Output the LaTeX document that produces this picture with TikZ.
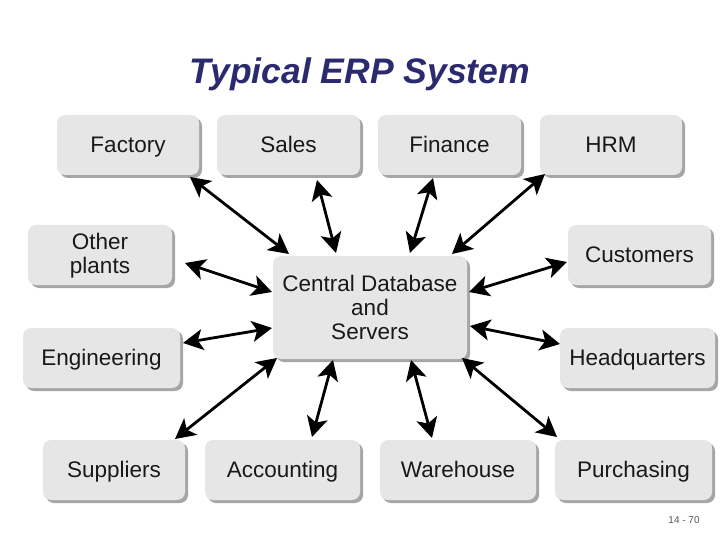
\documentclass[tikz,border=0pt]{standalone}
\usepackage{fontspec}
\setmainfont{Liberation Sans}
\usetikzlibrary{shadows,arrows.meta,calc}
\definecolor{boxfill}{HTML}{E6E6E6}
\definecolor{boxshadow}{HTML}{A6A6A6}
\definecolor{titleblue}{HTML}{2B2A6E}
\definecolor{pagegray}{HTML}{555555}
\tikzset{
  modbox/.style={fill=boxfill, rounded corners=8pt, inner sep=0pt,
    minimum height=60pt, align=center, text=black!90,
    font=\fontsize{22.5}{24}\selectfont,
    drop shadow={shadow xshift=3pt, shadow yshift=-3pt, fill=boxshadow, opacity=1}},
  oneline/.style={text height=16pt, text depth=1pt},
  tipx/.tip={Stealth[length=20pt,width=21pt,inset=5pt]},
  link/.style={line width=2.8pt, black, tipx-tipx}
}
\begin{document}
\begin{tikzpicture}[x=1pt,y=-1pt]
\useasboundingbox (0,0) rectangle (720,540);
\node[text=titleblue, font=\fontsize{35.5}{38}\selectfont\bfseries\itshape, anchor=base] (title) at (360,84) {Typical ERP System};
\node[modbox, oneline, minimum width=142pt] (factory) at (128,145) {Factory};
\node[modbox, oneline, minimum width=143pt] (sales) at (288.5,145) {Sales};
\node[modbox, oneline, minimum width=143pt] (finance) at (449.5,145) {Finance};
\node[modbox, oneline, minimum width=142pt] (hrm) at (611,145) {HRM};
\node[modbox, minimum width=144pt, text depth=3pt] (other) at (100,255) {Other\\plants};
\node[modbox, oneline, minimum width=143pt] (customers) at (639.5,255) {Customers};
\node[modbox, minimum width=194pt, minimum height=103pt] (central) at (370,307.5) {Central Database\\and\\Servers};
\node[modbox, oneline, minimum width=157pt] (engineering) at (101.5,358) {Engineering};
\node[modbox, oneline, minimum width=155pt] (hq) at (637.5,358) {Headquarters};
\node[modbox, oneline, minimum width=142pt] (suppliers) at (114,470) {Suppliers};
\node[modbox, oneline, minimum width=155pt] (accounting) at (282.5,470) {Accounting};
\node[modbox, oneline, minimum width=156pt] (warehouse) at (458,470) {Warehouse};
\node[modbox, oneline, minimum width=157pt] (purchasing) at (633.5,470) {Purchasing};
\node[text=pagegray, font=\fontsize{10}{12}\selectfont, anchor=base] (page) at (684,523) {14 - 70};
\draw[link] ($(factory.center)+(62,32)$) -- ($(central.center)+(-81,-53.5)$);
\draw[link] ($(sales.center)+(28.5,35)$) -- ($(central.center)+(-34,-54.5)$);
\draw[link] ($(finance.center)+(-16.5,33)$) -- ($(central.center)+(40,-54.5)$);
\draw[link] ($(hrm.center)+(-66,29)$) -- ($(central.center)+(82,-53.5)$);
\draw[link] ($(other.center)+(85,8)$) -- ($(central.center)+(-98,-15.5)$);
\draw[link] ($(customers.center)+(-72.5,7)$) -- ($(central.center)+(99,-15.5)$);
\draw[link] ($(engineering.center)+(81.5,-15)$) -- ($(central.center)+(-98,20.5)$);
\draw[link] ($(hq.center)+(-77.5,-14)$) -- ($(central.center)+(100,18.5)$);
\draw[link] ($(suppliers.center)+(61,-31)$) -- ($(central.center)+(-93,50.5)$);
\draw[link] ($(accounting.center)+(29.5,-33)$) -- ($(central.center)+(-37,52.5)$);
\draw[link] ($(warehouse.center)+(-26,-32)$) -- ($(central.center)+(41,52.5)$);
\draw[link] ($(purchasing.center)+(-76.5,-33)$) -- ($(central.center)+(92,50.5)$);
\end{tikzpicture}
\end{document}
